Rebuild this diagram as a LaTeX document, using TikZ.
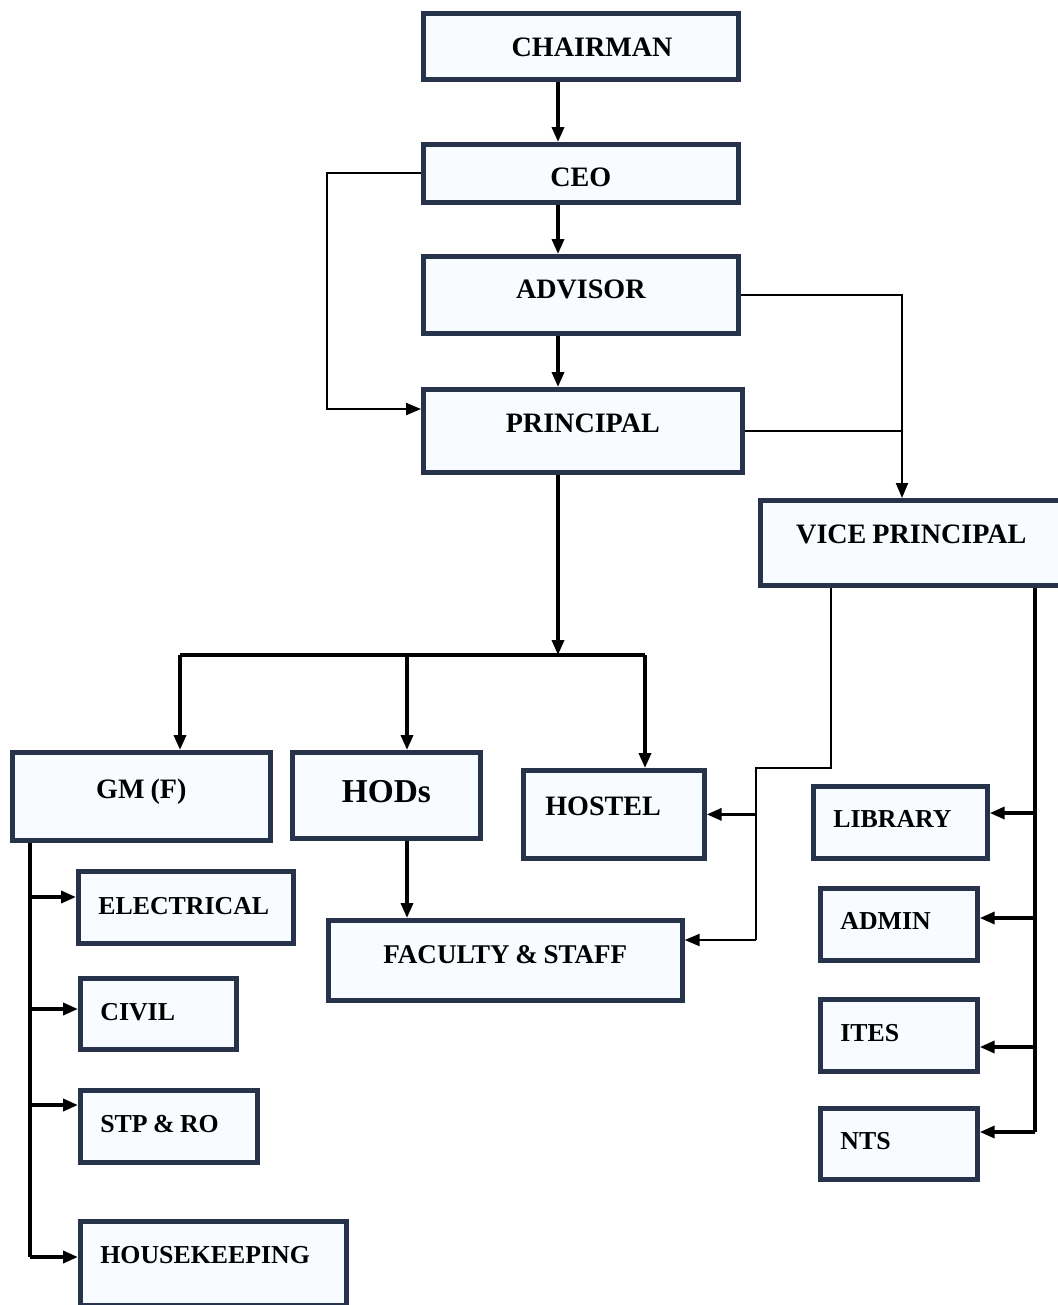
\documentclass[tikz,border=0pt]{standalone}
\usepackage{fontspec}
\setmainfont{Liberation Serif}
\usetikzlibrary{arrows.meta}

\definecolor{boxline}{HTML}{27334A}
\definecolor{boxfill}{HTML}{F8FBFF}

\begin{document}
\begin{tikzpicture}[
        x=0.02cm, y=-0.02cm,
        unit/.style={
            rectangle,
            draw=boxline,
            line width=2.7pt,
            fill=boxfill,
            inner sep=0pt,
            anchor=north west,
            align=center,
            font=\fontsize{16}{18}\selectfont\bfseries,
            execute at begin node={\spaceskip=0.21em\relax}
        },
        leftunit/.style={
            unit,
            align=left,
            inner xsep=0.4cm,
            font=\fontsize{14.7}{17}\selectfont\bfseries
        },
        arrow/.style={
            line width=2pt,
            -{Triangle[length=0.3cm, width=0.24cm]}
        },
        thinarrow/.style={
            line width=1.2pt,
            -{Triangle[length=0.3cm, width=0.24cm]}
        },
        link/.style={line width=2pt},
        thinlink/.style={line width=1.2pt}
    ]
        \useasboundingbox (0,0) rectangle (1058,1305);

        \node (chairman) [unit, text width=6.3cm, text height=0.86cm, text depth=0.46cm] at (421,11) {\hspace*{0.45cm}CHAIRMAN};
        \node (ceo) [unit, text width=6.3cm, text height=0.84cm, text depth=0.32cm] at (421,142) {CEO};
        \node (advisor) [unit, text width=6.3cm, text height=0.84cm, text depth=0.70cm] at (421,254) {ADVISOR};
        \node (principal) [unit, text width=6.38cm, text height=0.86cm, text depth=0.80cm] at (421,387) {PRINCIPAL};
        \node (vp) [unit, text width=6.04cm, text height=0.86cm, text depth=0.84cm] at (758,498) {VICE PRINCIPAL};
        \node (gm) [unit, text width=5.16cm, text height=0.92cm, text depth=0.84cm] at (10,750) {GM (F)};
        \node (hods) [unit, text width=3.76cm, text height=1.0cm, text depth=0.72cm, font=\fontsize{19}{22}\selectfont\bfseries] at (290,750) {HODs};
        \node (hostel) [leftunit, inner xsep=0.44cm, text width=2.74cm, text height=0.90cm, text depth=0.86cm, font=\fontsize{16}{18}\selectfont\bfseries] at (521,768) {HOSTEL};
        \node (faculty) [unit, text width=7.08cm, text height=0.86cm, text depth=0.74cm, font=\fontsize{15.4}{18}\selectfont\bfseries] at (326,918) {FACULTY \& STAFF};
        \node (library) [leftunit, text width=2.68cm, text height=0.82cm, text depth=0.62cm] at (811,784) {LIBRARY};
        \node (admin) [leftunit, text width=2.34cm, text height=0.82cm, text depth=0.62cm] at (818,886) {ADMIN};
        \node (ites) [leftunit, text width=2.34cm, text height=0.84cm, text depth=0.60cm] at (818,997) {ITES};
        \node (nts) [leftunit, text width=2.34cm, text height=0.82cm, text depth=0.60cm] at (818,1106) {NTS};
        \node (elec) [leftunit, text width=3.50cm, text height=0.86cm, text depth=0.58cm] at (76,869) {ELECTRICAL};
        \node (civil) [leftunit, text width=2.32cm, text height=0.84cm, text depth=0.58cm] at (78,976) {CIVIL};
        \node (stp) [leftunit, text width=2.74cm, text height=0.84cm, text depth=0.60cm] at (78,1088) {STP \& RO};
        \node (house) [leftunit, text width=4.52cm, text height=0.84cm, text depth=0.84cm] at (78,1219) {HOUSEKEEPING};

        % bends and junctions
        \coordinate (spine) at (558,0);
        \coordinate (loopl) at (327,409);
        \coordinate (vpin) at (902,0);
        \coordinate (busl) at (180,655);
        \coordinate (busr) at (645,655);
        \coordinate (hodx) at (407,655);
        \coordinate (vpl) at (831,768);
        \coordinate (jog) at (756,768);
        \coordinate (jogb) at (756,940);
        \coordinate (vpr) at (1035,1132);
        \coordinate (gmleg) at (30,1257);

        \draw [arrow] (spine |- chairman.south) -- (spine |- ceo.north);
        \draw [arrow] (spine |- ceo.south) -- (spine |- advisor.north);
        \draw [arrow] (spine |- advisor.south) -- (spine |- principal.north);
        \draw [thinarrow] (ceo.west) -| (loopl) -- (loopl -| principal.west);
        \draw [thinarrow] (advisor.east) -| (vpin |- vp.north);
        \draw [thinlink] (principal.east) -- (principal.east -| vpin);
        \draw [arrow] (spine |- principal.south) -- (spine |- busl);
        \draw [link] (busl) -- (busr);
        \draw [arrow] (busl) -- (busl |- gm.north);
        \draw [arrow] (hodx) -- (hodx |- hods.north);
        \draw [arrow] (busr) -- (busr |- hostel.north);
        \draw [arrow] (hodx |- hods.south) -- (hodx |- faculty.north);

        \draw [thinlink] (vpl |- vp.south) -- (vpl) -- (jog) -- (jogb);
        \draw [arrow] (jog |- hostel.east) -- (hostel.east);
        \draw [thinarrow] (jogb) -- (jogb -| faculty.east);

        \draw [link] (vpr |- vp.south) -- (vpr);
        \draw [arrow] (vpr |- 0,813) -- (library.east |- 0,813);
        \draw [arrow] (vpr |- 0,918) -- (admin.east |- 0,918);
        \draw [arrow] (vpr |- 0,1047) -- (ites.east |- 0,1047);
        \draw [arrow] (vpr) -- (vpr -| nts.east);

        \draw [link] (gmleg |- gm.south) -- (gmleg);
        \draw [arrow] (gmleg |- 0,897) -- (elec.west |- 0,897);
        \draw [arrow] (gmleg |- 0,1009) -- (civil.west |- 0,1009);
        \draw [arrow] (gmleg |- 0,1105) -- (stp.west |- 0,1105);
        \draw [arrow] (gmleg) -- (gmleg -| house.west);

    \end{tikzpicture}
\end{document}
